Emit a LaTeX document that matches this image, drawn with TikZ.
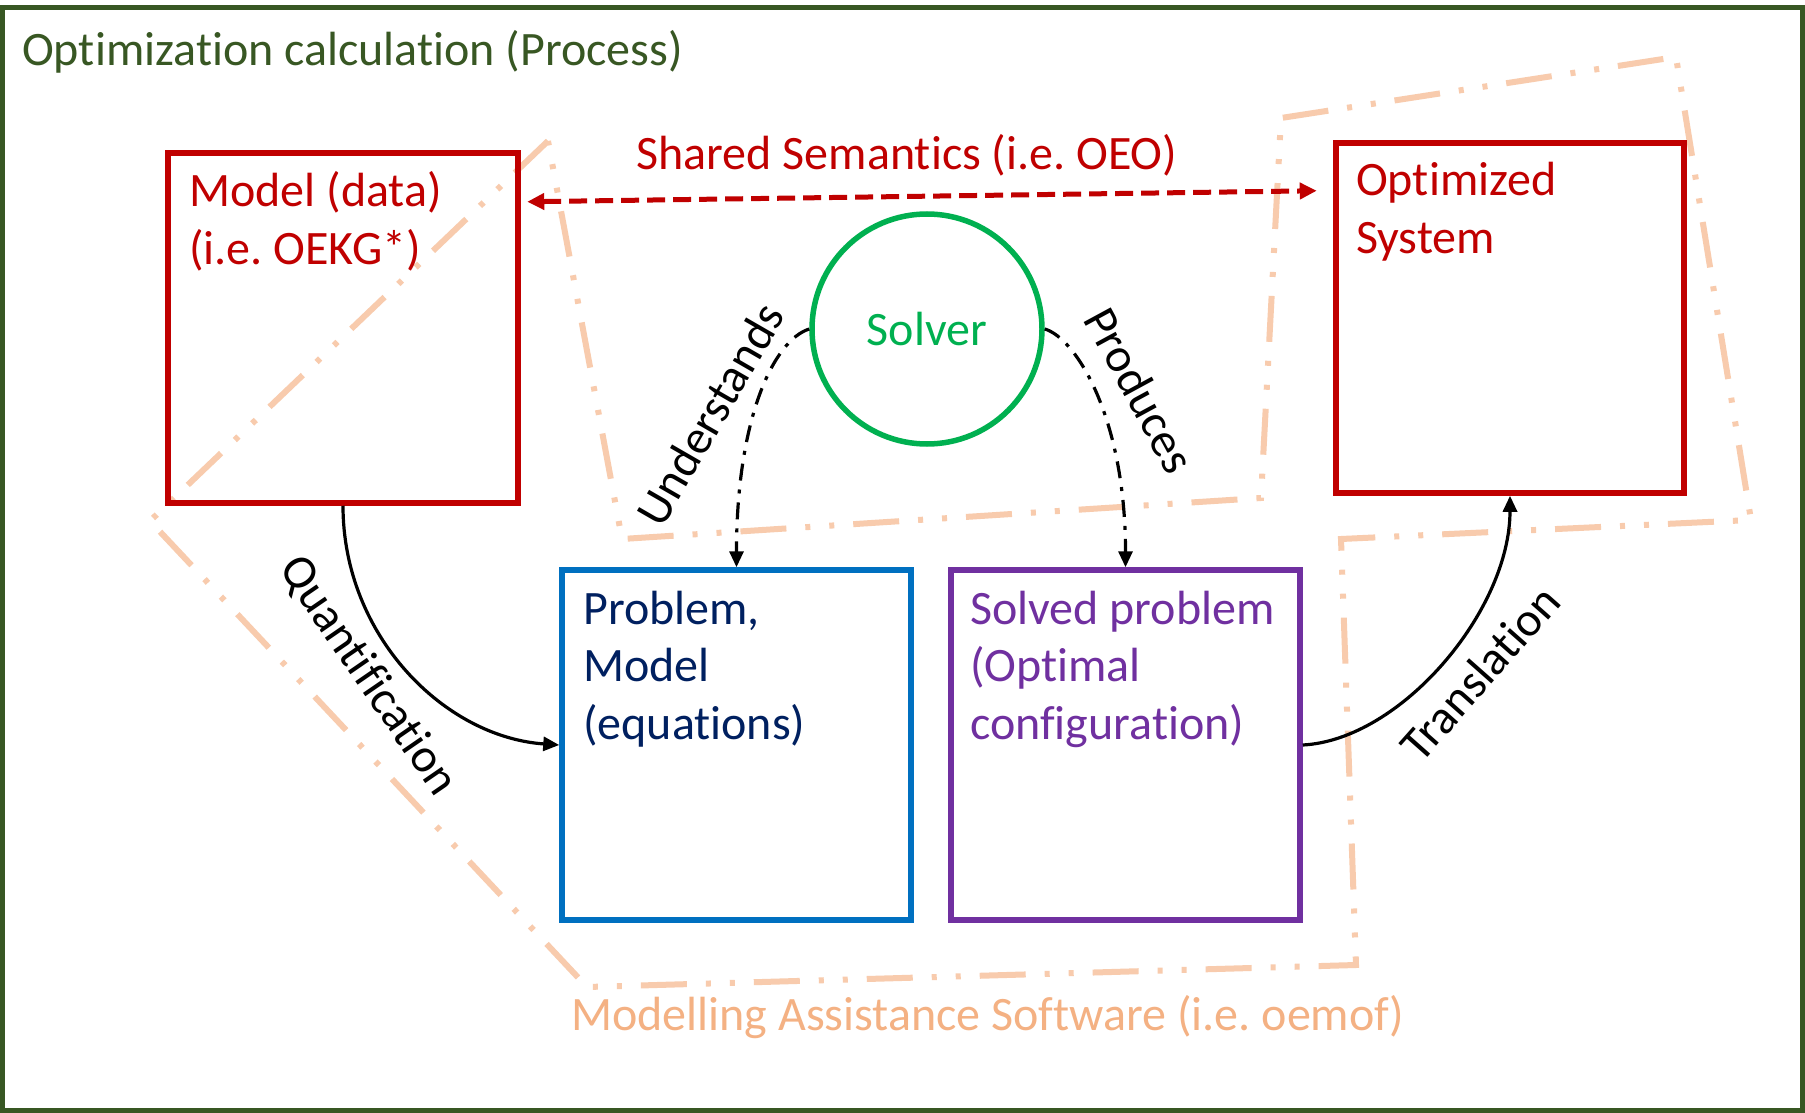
\documentclass[tikz,border=0pt]{standalone}
\usepackage{fontspec}
\setmainfont{Carlito}[Ligatures={NoCommon}]
\usetikzlibrary{arrows.meta,calc}
\definecolor{framegreen}{HTML}{385723}
\definecolor{boxred}{HTML}{C00000}
\definecolor{boxblue}{HTML}{0070C0}
\definecolor{navytext}{HTML}{002060}
\definecolor{boxpurple}{HTML}{7030A0}
\definecolor{solvergreen}{HTML}{00B050}
\definecolor{peachline}{HTML}{F8CBAD}
\definecolor{peachtext}{HTML}{F4B183}
\newcommand{\mlines}[1]{\begin{tabular}[t]{@{}l@{}}#1\end{tabular}}
\frenchspacing
\begin{document}
\begin{tikzpicture}[x=1pt,y=-1pt,
  every node/.style={inner sep=0pt, font=\fontsize{48}{57.5}\selectfont},
  sqbox/.style={draw, line width=5.5pt, minimum width=349pt, minimum height=350pt},
  txt/.style={anchor=base west, inner sep=0pt},
  conn/.style={line width=3.2pt, -{Triangle[length=16pt,width=14pt]}},
  dashdotconn/.style={conn, dash pattern=on 17pt off 9pt on 4pt off 9pt},
  peachpoly/.style={draw=peachline, line width=6pt, dash pattern=on 46pt off 19pt on 5pt off 19pt on 5pt off 19pt}
]
\useasboundingbox (0,0) rectangle (1805,1113);
\fill[white] (0,0) rectangle (1805,1113);

% Modelling assistance software region
\path[peachpoly] (548,141) -- (150,521) -- (587,987) -- (1356,965) -- (1341,539) -- (1751,520) -- (1676,57) -- (1281,118) -- (1261,498) -- (622,539) -- cycle;

% boxes
\node[sqbox, draw=boxred, minimum width=350pt] (model) at (343,328) {};
\node[sqbox, draw=boxred, minimum width=348pt] (optim) at (1510,318) {};
\node[sqbox, draw=boxblue] (problem) at (736.5,745) {};
\node[sqbox, draw=boxpurple] (solved) at (1125.5,745) {};
\node[circle, draw=solvergreen, line width=5.5pt, minimum size=230pt, text=solvergreen] (solver) at (927,329) {Solver};

% texts
\node[txt, text=framegreen] (title) at (22,66) {Optimization calculation (Process)};
\node[txt, text=boxred] (modeltxt) at (189,207) {\mlines{Model (data)\\(i.e. OEKG*)}};
\node[txt, text=boxred] (optimtxt) at (1356,196) {\mlines{Optimized\\System}};
\node[txt, text=navytext] (problemtxt) at (583,624) {\mlines{Problem,\\Model\\(equations)}};
\node[txt, text=boxpurple] (solvedtxt) at (970,624) {\mlines{Solved problem\\(Optimal\\configuration)}};
\node[anchor=base, text=boxred] (semlabel) at (907,170) {Shared Semantics (i.e. OEO)};
\node[txt, text=peachtext] (mastxt) at (571,1030) {Modelling Assistance Software (i.e. oemof)};

% shared semantics arrow
\coordinate (semL) at ($(model.north east)+(6.5,51.5)$);
\coordinate (semR) at ($(optim.north west)+(-16.5,50.5)$);
\draw[boxred, line width=5pt, dash pattern=on 18pt off 8pt, {Triangle[length=17pt,width=16pt]}-{Triangle[length=17pt,width=16pt]}] (semL) -- (semR);

% connectors
\draw[conn] (model.south) .. controls ($(model.south)+(0,130)$) and ($(problem.west)+(-115,-8)$) .. (problem.west);
\draw[conn] (solved.east) .. controls ($(solved.east)+(98,-5)$) and ($(optim.south)+(0,115)$) .. (optim.south);
\draw[dashdotconn] (solver.west) .. controls ($(solver.west)+(-35,11)$) and ($(problem.north)+(0,-150)$) .. (problem.north);
\draw[dashdotconn] (solver.east) .. controls ($(solver.east)+(31,9)$) and ($(solved.north)+(0,-150)$) .. (solved.north);

% connector labels
\node[rotate=60] (lblU) at (710,414) {Understands};
\node[rotate=-61.5] (lblP) at (1140,390) {Produces};
\node[rotate=-55.5] (lblQ) at (368,676) {Quantification};
\node[rotate=48.5] (lblT) at (1480,673) {Translation};

% outer frame
\draw[framegreen, line width=4.6pt] (2.5,7.7) rectangle (1802.5,1110.5);
\end{tikzpicture}
\end{document}
